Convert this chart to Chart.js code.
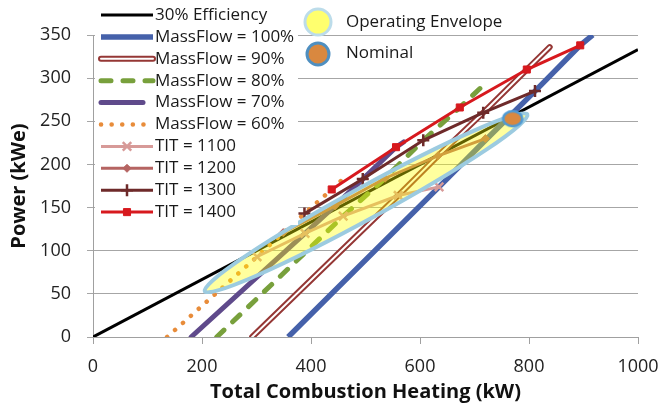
<!DOCTYPE html>
<html>
<head>
<meta charset="utf-8">
<title>Power vs Total Combustion Heating</title>
<script src="https://cdn.jsdelivr.net/npm/chart.js@4.4.0/dist/chart.umd.min.js"></script>
<style>
  body { margin: 0; background: #fff; }
  #wrap { width: 661px; height: 404px; }
</style>
</head>
<body>
<div id="wrap"><canvas id="chart" width="661" height="404"></canvas></div>
<script>
// values: [heat kW, power kWe]
const efficiency30 = [[0, 0], [1000, 333]];
const massFlow100 = [[358, 0], [635, 174], [720, 228], [811, 285], [894, 338], [917, 350]];
const massFlow90 = [[292, 0], [560, 164], [633, 210], [716, 260], [796, 310], [838, 336]];
const massFlow80 = [[227, 0], [459, 140], [536, 184], [606, 228], [673, 266], [710, 288]];
const massFlow70 = [[180, 0], [389, 120], [444, 152], [495, 183], [556, 220], [570, 226]];
const massFlow60 = [[136, 0], [301, 93], [349, 121], [388, 143], [438, 171], [462, 185]];
const tit1100 = [[301, 93], [389, 120], [459, 140], [560, 164], [635, 174]];
const tit1200 = [[349, 121], [444, 152], [536, 184], [633, 210], [720, 230]];
const tit1300 = [[388, 143], [495, 183], [606, 228], [716, 260], [811, 285]];
const tit1400 = [[438, 171], [556, 220], [673, 266], [796, 310], [894, 338]];
const nominal = [[770, 253]];
const envelopeEnds = [[205, 53], [797, 258]];

const xTicks = [0, 200, 400, 600, 800, 1000];
const yTicks = [0, 50, 100, 150, 200, 250, 300, 350];

const FONT = "'Open Sans', 'DejaVu Sans', sans-serif";
const pts = a => a.map(p => ({ x: p[0], y: p[1] }));

function nominalMark() {
    let c = document.createElement('canvas');
    c.width = 24; c.height = 19;
    let g = c.getContext('2d');
    g.beginPath();
    g.ellipse(12, 9.5, 9.5, 7.5, 0, 0, Math.PI * 2);
    g.fillStyle = '#d9883f';
    g.fill();
    g.lineWidth = 2.5;
    g.strokeStyle = '#4f9ad3';
    g.stroke();
    return c;
}

function line(label, data, color, width, extra) {
    return Object.assign({
        label: label,
        data: pts(data),
        borderColor: color,
        backgroundColor: color,
        borderWidth: width,
        pointRadius: 0,
        showLine: true,
        fill: false,
        tension: 0
    }, extra || {});
}

let datasets = [
    line('30% Efficiency', efficiency30, '#000000', 3),
    line('MassFlow = 100%', massFlow100, '#4561aa', 5.5),
    line('MassFlow = 90%', massFlow90, '#953735', 6, { borderCapStyle: 'round' }),
    line('', massFlow90, '#ffffff', 2, { borderCapStyle: 'round' }),
    line('MassFlow = 80%', massFlow80, '#78a03c', 5, { borderDash: [10, 12], borderCapStyle: 'round' }),
    line('MassFlow = 70%', massFlow70, '#5f4a8b', 5, { borderCapStyle: 'round' }),
    line('MassFlow = 60%', massFlow60, '#e88c3a', 4.5, { borderDash: [0.1, 10.5], borderCapStyle: 'round' }),
    line('TIT = 1100', tit1100, '#d79a98', 3, { pointStyle: 'crossRot', pointRadius: 6, pointBorderWidth: 2.5 }),
    line('TIT = 1200', tit1200, '#b56462', 3, { pointStyle: 'rectRot', pointRadius: 4, pointBorderWidth: 1 }),
    line('TIT = 1300', tit1300, '#6e2a2a', 3, { pointStyle: 'cross', pointRadius: 6, pointBorderWidth: 2.5 }),
    line('TIT = 1400', tit1400, '#d7191e', 3, { pointStyle: 'rect', pointRadius: 5, pointBorderWidth: 1 }),
    line('Nominal', nominal, '#d9883f', 0, { showLine: false, pointStyle: nominalMark(), pointRadius: 10 })
];
// first series at the bottom, like the spreadsheet
datasets.forEach((d, i) => d.order = datasets.length - i);
const nominalIndex = datasets.length - 1;

// translucent envelope drawn just before the nominal marker
const envelopePlugin = {
    id: 'envelope',
    beforeDatasetDraw(chart, args) {
        if (args.index !== nominalIndex) return;
        let xs = chart.scales.x, ys = chart.scales.y;
        let x1 = xs.getPixelForValue(envelopeEnds[0][0]), y1 = ys.getPixelForValue(envelopeEnds[0][1]);
        let x2 = xs.getPixelForValue(envelopeEnds[1][0]), y2 = ys.getPixelForValue(envelopeEnds[1][1]);
        let ctx = chart.ctx;
        ctx.save();
        ctx.beginPath();
        ctx.ellipse((x1 + x2) / 2, (y1 + y2) / 2, Math.hypot(x2 - x1, y2 - y1) / 2, 16,
            Math.atan2(y2 - y1, x2 - x1), 0, Math.PI * 2);
        ctx.fillStyle = 'rgba(255,255,0,0.38)';
        ctx.fill();
        ctx.lineWidth = 4;
        ctx.strokeStyle = '#9ccbe0';
        ctx.stroke();
        ctx.restore();
    }
};

// legend drawn by hand to get the line samples
const legendPlugin = {
    id: 'handLegend',
    afterDraw(chart) {
        let ctx = chart.ctx;
        ctx.save();
        ctx.fillStyle = '#ffffff';
        ctx.fillRect(95, 3, 203, 222);

        let rows = [
            { ds: 0, x2: 153 }, { ds: 1, x2: 153 }, { ds: 2, x2: 153, inner: 3 }, { ds: 4, x2: 153 },
            { ds: 5, x2: 143 }, { ds: 6, x2: 145 }, { ds: 7, x2: 153 }, { ds: 8, x2: 153 },
            { ds: 9, x2: 153 }, { ds: 10, x2: 153 }
        ];
        rows.forEach((r, i) => {
            let d = datasets[r.ds];
            let y = 15 + i * 21.9;
            ctx.save();
            ctx.strokeStyle = d.borderColor;
            ctx.lineWidth = d.borderWidth;
            ctx.lineCap = d.borderCapStyle || 'butt';
            ctx.setLineDash(d.borderDash || []);
            ctx.beginPath();
            ctx.moveTo(101, y);
            ctx.lineTo(r.x2, y);
            ctx.stroke();
            if (r.inner !== undefined) {
                let e = datasets[r.inner];
                ctx.strokeStyle = e.borderColor;
                ctx.lineWidth = e.borderWidth;
                ctx.beginPath();
                ctx.moveTo(101, y);
                ctx.lineTo(r.x2, y);
                ctx.stroke();
            }
            ctx.setLineDash([]);
            if (d.pointStyle) {
                ctx.fillStyle = d.borderColor;
                ctx.lineWidth = d.pointBorderWidth;
                Chart.helpers.drawPoint(ctx, {
                    pointStyle: d.pointStyle, radius: d.pointRadius, rotation: 0,
                    borderWidth: d.pointBorderWidth
                }, 127, y);
            }
            ctx.restore();
            ctx.fillStyle = '#1a1a1a';
            ctx.font = '17px ' + FONT;
            ctx.textBaseline = 'middle';
            ctx.textAlign = 'left';
            ctx.fillText(d.label, 155, y);
        });

        // envelope / nominal key at the top
        ctx.lineWidth = 3;
        ctx.beginPath();
        ctx.arc(318, 22, 13, 0, Math.PI * 2);
        ctx.fillStyle = '#ffff6e';
        ctx.fill();
        ctx.strokeStyle = '#bcdcea';
        ctx.stroke();
        ctx.beginPath();
        ctx.arc(318, 54, 11, 0, Math.PI * 2);
        ctx.fillStyle = '#d9883f';
        ctx.fill();
        ctx.strokeStyle = '#4f8fc0';
        ctx.stroke();
        ctx.fillStyle = '#1a1a1a';
        ctx.font = '17px ' + FONT;
        ctx.textBaseline = 'middle';
        ctx.fillText('Operating Envelope', 346, 22);
        ctx.fillText('Nominal', 346, 53);
        ctx.restore();
    }
};

document.addEventListener('DOMContentLoaded', () => {
    new Chart(document.getElementById('chart'), {
        type: 'scatter',
        data: { datasets: datasets },
        plugins: [envelopePlugin, legendPlugin],
        options: {
            responsive: false,
            animation: false,
            devicePixelRatio: 1,
            layout: { padding: { top: 35, right: 0, left: 0, bottom: 0 } },
            plugins: { legend: { display: false }, tooltip: { enabled: false } },
            scales: {
                x: {
                    type: 'linear', min: 0, max: 1000,
                    afterBuildTicks: s => { s.ticks = xTicks.map(v => ({ value: v })); },
                    afterFit: s => { s.height = 67; s.paddingRight = 23; s.paddingLeft = 0; },
                    ticks: { font: { family: FONT, size: 18 }, color: '#222', padding: 12, maxRotation: 0,
                        callback: v => String(v) },
                    grid: { drawOnChartArea: false, tickLength: 7, color: '#a0a0a0' },
                    border: { color: '#a0a0a0' },
                    title: {
                        display: true, text: 'Total Combustion Heating (kW)', color: '#111',
                        font: { family: FONT, size: 20, weight: 'bold' }, padding: { top: 0, bottom: 0 }
                    }
                },
                y: {
                    type: 'linear', min: 0, max: 350,
                    afterBuildTicks: s => { s.ticks = yTicks.map(v => ({ value: v })); },
                    afterFit: s => { s.width = 93; },
                    ticks: { font: { family: FONT, size: 18 }, color: '#222', padding: 16,
                        callback: v => String(v) },
                    grid: { color: '#a6a6a6', tickLength: 6 },
                    border: { color: '#a0a0a0' },
                    title: {
                        display: true, text: 'Power (kWe)', color: '#111',
                        font: { family: FONT, size: 20, weight: 'bold' }, padding: { top: 7, bottom: 0 }
                    }
                }
            }
        }
    });
});
</script>
</body>
</html>
